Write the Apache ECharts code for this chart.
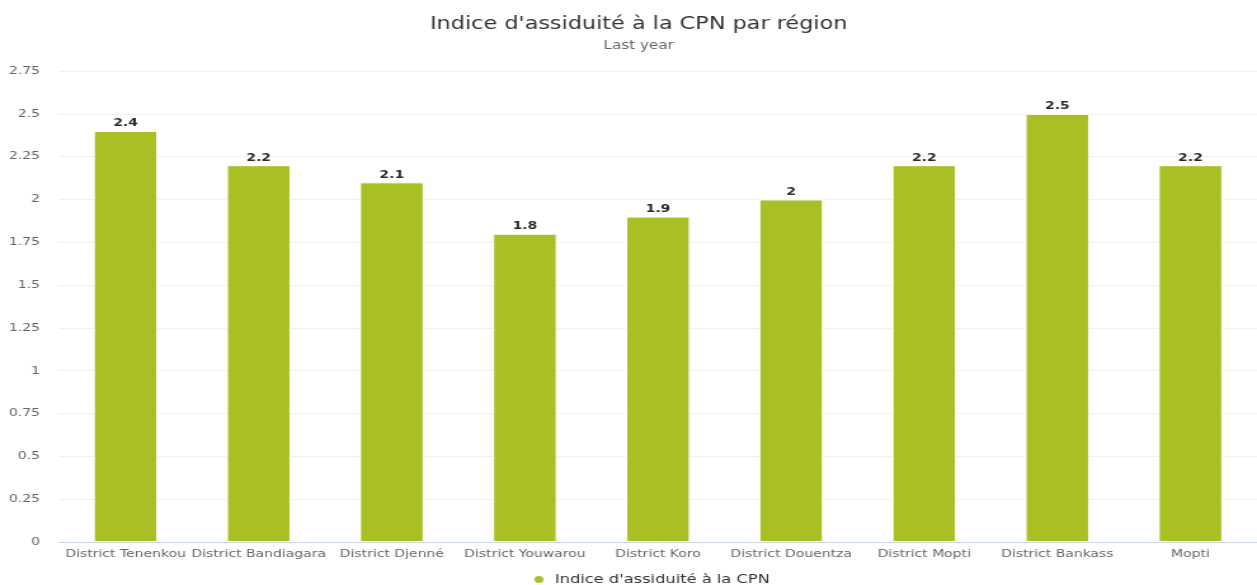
<!DOCTYPE html>
<html>
<head>
<meta charset="utf-8">
<script src="https://cdn.jsdelivr.net/npm/echarts@6/dist/echarts.min.js"></script>
<style>
  html, body { margin: 0; padding: 0; background: #fff; overflow: hidden; }
  /* the reference is rendered narrow and stretched horizontally */
  #chart { width: 990px; height: 585px; transform: scaleX(1.2697); transform-origin: 0 0; }
</style>
</head>
<body>
<div id="chart"></div>
<script>
// catégories et valeurs
const districts = [
  'District Tenenkou',
  'District Bandiagara',
  'District Djenné',
  'District Youwarou',
  'District Koro',
  'District Douentza',
  'District Mopti',
  'District Bankass',
  'Mopti'
]
const indices = [2.4, 2.2, 2.1, 1.8, 1.9, 2, 2.2, 2.5, 2.2]
const seriesName = "Indice d'assiduité à la CPN"

const font = 'DejaVu Sans'
const chart = echarts.init(document.getElementById('chart'))

chart.setOption({
  animation: false,
  textStyle: { fontFamily: font },
  title: {
    text: "Indice d'assiduité à la CPN par région",
    subtext: 'Last year',
    left: 498,
    textAlign: 'center',
    top: 10,
    itemGap: 7,
    textStyle: { fontFamily: font, fontSize: 17.6, fontWeight: 'normal', color: '#333333' },
    subtextStyle: { fontFamily: font, fontSize: 12, color: '#666666' }
  },
  legend: {
    top: 568,
    left: 414,
    icon: 'circle',
    itemWidth: 9,
    itemHeight: 9,
    textStyle: { fontFamily: font, fontSize: 12.8, color: '#333333', padding: [0, 0, 0, 3] }
  },
  grid: {
    left: 46.5,
    right: 0,
    top: 71,
    bottom: 43
  },
  xAxis: {
    type: 'category',
    data: districts,
    axisTick: { show: false },
    axisLine: { lineStyle: { color: '#ccd6eb' } },
    axisLabel: { color: '#666666', fontSize: 11, margin: 7, interval: 0, fontFamily: font }
  },
  yAxis: {
    type: 'value',
    min: 0,
    max: 2.75,
    interval: 0.25,
    axisLine: { show: false },
    axisTick: { show: false },
    splitLine: { lineStyle: { color: '#f0f0f0' } },
    axisLabel: { color: '#666666', fontSize: 11, margin: 15, fontFamily: font }
  },
  series: [
    {
      name: seriesName,
      type: 'bar',
      barWidth: 50.4,
      data: indices,
      itemStyle: { color: '#a9bf23', borderColor: '#ffffff', borderWidth: 1 },
      label: {
        show: true,
        position: 'top',
        distance: 2,
        color: '#2a2a2a',
        fontWeight: 'bold',
        fontSize: 11,
        fontFamily: font
      }
    }
  ]
})
</script>
</body>
</html>
